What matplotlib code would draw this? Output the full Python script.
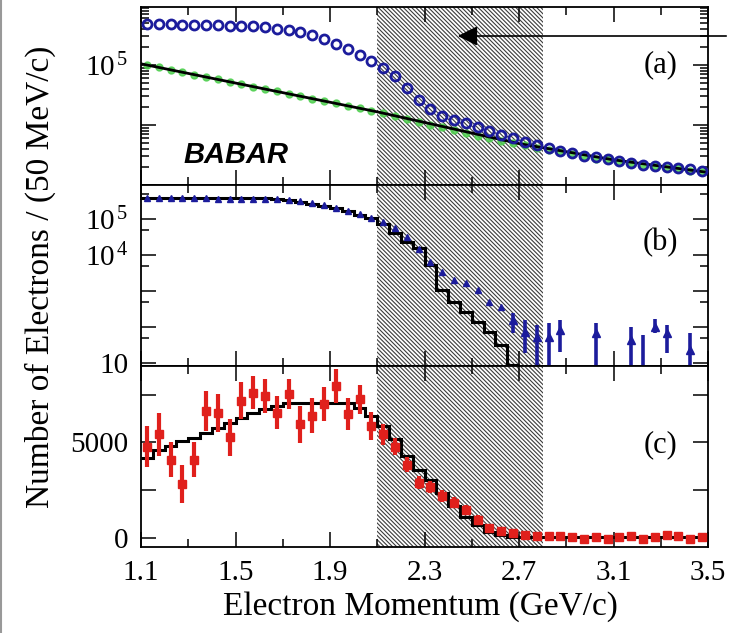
import numpy as np
import matplotlib.pyplot as plt
from matplotlib.ticker import FixedLocator, MultipleLocator, LogLocator, FuncFormatter, NullFormatter
from matplotlib.lines import Line2D
from matplotlib.patches import FancyArrowPatch

plt.rcParams['font.family'] = 'Liberation Serif'
plt.rcParams['mathtext.fontset'] = 'custom'
plt.rcParams['mathtext.rm'] = 'Liberation Serif'
plt.rcParams['mathtext.it'] = 'Liberation Serif:italic'
plt.rcParams['hatch.linewidth'] = 0.8

# 50 MeV/c bins from 1.1 to 3.5 GeV/c
edges = np.round(np.arange(1.1, 3.5001, 0.05), 3)
centers = edges[:-1] + 0.025

# (a) on-resonance data, off-resonance data and continuum fit
on_res = [479000, 479000, 479000, 473000, 468000, 468000, 462000, 457000,
          452000, 442000, 427000, 407000, 385000, 355000, 316000, 269000,
          224000, 182000, 148000, 115000, 89100, 66100, 41700, 26300,
          18600, 14100, 12000, 10700, 9330, 7940, 6920, 6030,
          5250, 4570, 4070, 3720, 3390, 3090, 2880, 2690,
          2510, 2340, 2190, 2090, 2000, 1910, 1820, 1740]
off_res = [100000, 91200, 83200, 75900, 69200, 63100, 57500, 52500,
           47900, 43700, 39800, 36300, 33100, 30200, 27500, 25100,
           22900, 20900, 19100, 17400, 15800, 14100, 12600, 11200,
           10000, 9120, 8130, 7410, 6610, 6030, 5500, 5010,
           4570, 4170, 3800, 3550, 3240, 3020, 2750, 2700,
           2400, 2350, 2100, 2100, 1900, 1900, 1700, 1650]
fit_x = [1.1, 1.6, 2.1, 2.7, 3.1, 3.5]
fit_y = [105000, 41700, 16600, 4900, 2630, 1620]

# (b) continuum-subtracted data and B -> X_c e nu background
hist_b = [372000] * 11 + [355000, 331000, 302000, 269000, 234000, 200000,
                          166000, 132000, 105000, 70800, 39800, 23400,
                          15800, 5250, 1070, 501, 269, 141, 74, 32, 8.6]
b_x = list(centers[:36]) + [3.025, 3.175, 3.225, 3.275, 3.325, 3.425]
b_y = [372000, 374000, 375000, 375000, 374000, 373000, 371000, 369000,
       366000, 363000, 359000, 355000, 331000, 309000, 275000, 240000,
       204000, 170000, 135000, 110000, 83200, 55000, 31600, 15100,
       6460, 3470, 2040, 1660, 1070, 501, 363,
       155, 74, 54, 54, 83, 68, 44, 5, 100, 68, 23]
b_lo = [68, 19, 1, 1, 20, 1, 1, 1, 68, 19, 1]
b_hi = [245, 155, 115, 129, 155, 129, 98, 60, 166, 115, 68]

# (c) background-subtracted signal and signal model
c_y = [4770, 5420, 4100, 2840, 4100, 6650, 6560, 5260, 7190, 7610, 7440, 6560,
       7530, 5950, 6390, 7000, 7960, 6475, 7260, 5860, 5420, 4780, 3840, 2890,
       2680, 2190, 1840, 1490, 960, 520, 350, 260, 150, 120, 100, 80,
       60, -40, 70, -50, 40, 110, -60, 60, 160, 100, -70, 40]
c_err = [1080, 1130, 900, 1000, 920, 1050, 1000, 960, 960, 880, 880, 880,
         800, 960, 920, 880, 880, 830, 750, 750, 530, 440, 400, 350,
         320, 300, 280, 250, 220, 200, 180, 170] + [150] * 16
hist_c = [4190, 4630, 4840, 5070, 5250, 5510, 5770, 6040, 6300, 6560, 6740, 6910,
          7050, 7090, 7090, 7090, 7090, 7090, 6790, 6390, 5860, 5160, 4280, 3580,
          3050, 2350, 1650, 1120, 680, 330, 160, 70] + [50] * 16

x_major = [1.1, 1.5, 1.9, 2.3, 2.7, 3.1, 3.5]
x_minor = [1.3, 1.7, 2.1, 2.5, 2.9, 3.3]

blue = '#1c1c9c'
green = '#4fcf4f'
red = '#e0201c'

fig = plt.figure(figsize=(7.29, 6.33), dpi=100)
L, W = 141 / 729, 567 / 729
ax_a = fig.add_axes([L, 1 - 185 / 633, W, 178 / 633])
ax_b = fig.add_axes([L, 1 - 366 / 633, W, 181 / 633])
ax_c = fig.add_axes([L, 1 - 547 / 633, W, 181 / 633])

for ax in (ax_a, ax_b, ax_c):
    ax.set_xlim(1.1, 3.5)
    ax.axvspan(2.1, 2.8, facecolor='white', edgecolor='#3c3c3c',
               hatch='\\\\\\\\\\\\\\\\', lw=0, zorder=0)
    ax.xaxis.set_major_locator(FixedLocator(x_major))
    ax.xaxis.set_minor_locator(FixedLocator(x_minor))
    ax.tick_params(which='both', direction='in', top=True, right=True,
                   labelsize=21, width=1.1, pad=9)
    ax.tick_params(which='major', length=11)
    ax.tick_params(which='minor', length=6)
    for s in ax.spines.values():
        s.set_linewidth(1.3)
ax_a.tick_params(labelbottom=False)
ax_b.tick_params(labelbottom=False)
ax_c.xaxis.set_major_formatter(FuncFormatter(lambda v, p: f'{v:.1f}'))

# (a)
ax_a.set_yscale('log')
ax_a.set_ylim(1000, 9.3e5)
ax_a.yaxis.set_major_locator(LogLocator(base=10, numticks=12))
ax_a.yaxis.set_minor_locator(LogLocator(base=10, subs=np.arange(2, 10), numticks=12))
ax_a.yaxis.set_minor_formatter(NullFormatter())
ax_a.yaxis.set_major_formatter(FuncFormatter(
    lambda v, p: r'$10^{\,5}$' if abs(v - 1e5) < 1 else ''))
ax_a.plot(centers, off_res, 'o', ms=5, color=green, mec=green, alpha=0.85, zorder=2)
ax_a.plot(fit_x, fit_y, '-', color='black', lw=2, zorder=3)
ax_a.plot(centers, on_res, 'o', ms=6.5, mfc='none', mec=blue, mew=2.0, zorder=4)
ax_a.text(0.168, 0.17, 'BABAR', transform=ax_a.transAxes, family='Liberation Sans',
          fontweight='bold', style='italic', fontsize=21, ha='center', va='center')
ax_a.text(3.3, 1.0e5, '(a)', fontsize=22, ha='center', va='center')

# (b)
ax_b.set_yscale('log')
ax_b.set_ylim(8.3, 8.8e5)
ax_b.yaxis.set_major_locator(LogLocator(base=10, numticks=12))
ax_b.yaxis.set_minor_locator(LogLocator(base=10, subs=(5,), numticks=12))
ax_b.yaxis.set_minor_formatter(NullFormatter())
b_labels = {5: r'$10^{\,5}$', 4: r'$10^{\,4}$', 1: '10'}
ax_b.yaxis.set_major_formatter(FuncFormatter(
    lambda v, p: b_labels.get(int(round(np.log10(v))), '') if v > 0 else ''))
ax_b.stairs(hist_b, edges[:len(hist_b) + 1], baseline=None, color='black', lw=2.2, zorder=3)
ax_b.plot(b_x[:31], b_y[:31], '^', ms=4.5, color=blue, zorder=4)
tail_x = np.array(b_x[31:])
tail_y = np.array(b_y[31:])
yerr = [tail_y - np.array(b_lo), np.array(b_hi) - tail_y]
ax_b.errorbar(tail_x, tail_y, yerr=yerr, fmt='^', ms=5.5, color=blue,
              elinewidth=2.6, capsize=0, zorder=4)
ax_b.text(3.3, 2.2e4, '(b)', fontsize=22, ha='center', va='center')

# (c)
ax_c.set_ylim(-470, 9000)
ax_c.yaxis.set_major_locator(MultipleLocator(2500))
ax_c.yaxis.set_major_formatter(FuncFormatter(
    lambda v, p: f'{v:.0f}' if v in (0, 5000) else ''))
ax_c.stairs(hist_c, edges, baseline=None, color='black', lw=2.2, zorder=3)
ax_c.errorbar(centers, c_y, yerr=c_err, fmt='s', ms=6, color=red,
              elinewidth=3, capsize=0, zorder=4)
ax_c.text(3.3, 4900, '(c)', fontsize=22, ha='center', va='center')

fig.text(420 / 729, 1 - 607 / 633, 'Electron Momentum (GeV/c)', fontsize=24,
         ha='center', va='center')
fig.text(40 / 729, 1 - 277 / 633, 'Number of Electrons / (50 MeV/c)', fontsize=24,
         rotation=90, ha='center', va='center')

# arrow pointing into the hatched region from the right
fig.add_artist(FancyArrowPatch(
    (1.0, 1 - 36 / 633), (455 / 729, 1 - 36 / 633), transform=fig.transFigure,
    arrowstyle='-|>', mutation_scale=30, color='black', lw=1.2))
fig.add_artist(Line2D([0.002, 0.002], [0, 1], color='#999999', lw=1.5))

fig.savefig('out.png', dpi=100)
